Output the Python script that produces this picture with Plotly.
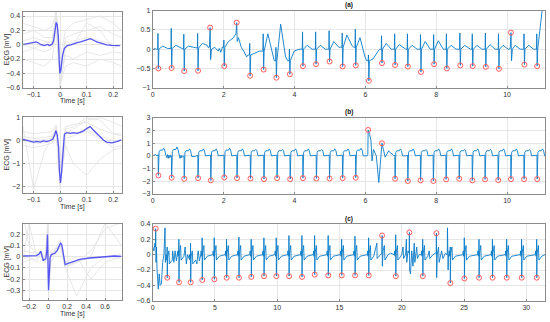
import plotly.graph_objects as go

W, H = 550, 322

# ---------------- Left panels: averaged beats ----------------
L1_T = [-0.142,-0.121,-0.102,-0.09,-0.08,-0.072,-0.06,-0.047,-0.041,-0.031,-0.025,-0.02,-0.015,-0.011,-0.007,
        -0.004,-0.001,0.002,0.009,0.016,0.027,0.04,0.052,0.064,0.077,0.089,0.101,0.114,0.126,0.138,0.157,0.175,0.194,0.212,0.225]
L1_V = [0.0,0.013,0.027,0.04,0.02,0.0,-0.013,0.004,-0.013,0.004,0.05,0.21,0.31,0.28,0.12,
        -0.19,-0.40,-0.37,-0.15,-0.05,-0.013,-0.004,0.018,0.03,0.04,0.053,0.076,0.084,0.062,0.04,0.018,-0.004,-0.009,-0.013,-0.013]
L1_GT = [-0.14,-0.1,-0.06,-0.03,-0.015,0,0.02,0.05,0.1,0.15,0.2,0.23]
L1_GRAY = [
    [0.05,0.1,0.05,0.02,0.45,-0.6,-0.05,0.05,0.1,0.05,0.0,-0.02],
    [-0.1,-0.05,-0.1,-0.05,0.3,-0.5,-0.15,-0.2,-0.1,-0.15,-0.1,-0.12],
    [0.15,0.2,0.1,0.1,0.4,-0.35,0.1,0.15,0.2,0.25,0.15,0.1],
    [-0.2,-0.25,-0.3,-0.2,0.2,-0.55,-0.3,-0.25,-0.3,-0.2,-0.25,-0.3],
    [0.0,-0.05,0.02,0.05,0.35,-0.45,0.05,0.0,0.3,0.2,-0.05,0.0],
    [0.3,0.25,0.2,0.25,0.48,-0.2,0.2,0.3,0.35,0.4,0.3,0.2],
]

L2_T = [-0.14,-0.119,-0.1,-0.088,-0.075,-0.063,-0.05,-0.038,-0.028,-0.021,-0.016,-0.011,-0.006,-0.003,0.001,0.005,
        0.01,0.016,0.025,0.038,0.05,0.063,0.075,0.088,0.103,0.113,0.123,0.135,0.15,0.163,0.175,0.194,0.213,0.231]
L2_V = [0.06,-0.01,-0.06,-0.03,-0.06,-0.01,-0.04,0.01,0.06,0.25,0.43,0.25,-0.26,-1.28,-1.83,-1.42,
        -0.41,0.29,0.35,0.32,0.35,0.32,0.36,0.43,0.55,0.61,0.49,0.35,0.17,0.03,-0.06,-0.09,-0.04,0.04]
L2_GT = [-0.14,-0.1,-0.06,-0.03,-0.015,0,0.02,0.05,0.1,0.15,0.2,0.235]
L2_GRAY = [
    [0.6,-2.1,-0.5,0.2,0.5,-1.5,0.4,0.3,0.5,0.2,0.0,0.0],
    [0.2,0.1,0.15,0.2,0.6,-1.6,0.5,0.6,1.0,0.9,0.3,0.2],
    [-0.2,-0.3,-0.2,-0.1,0.3,-2.0,-0.2,-1.0,-1.5,-0.8,-0.4,-0.3],
    [0.1,0.0,0.05,0.1,0.4,-1.7,0.3,0.5,0.9,1.0,0.8,0.6],
    [0.0,-0.1,-0.1,0.0,0.5,-1.9,0.1,0.2,0.4,0.1,-0.3,-0.2],
    [0.4,0.3,0.35,0.4,0.7,-1.2,0.6,0.7,0.8,0.5,0.3,0.3],
]

L3_T = [-0.263,-0.193,-0.123,-0.095,-0.077,-0.063,-0.053,-0.039,-0.025,-0.014,-0.007,-0.004,0.0,0.004,0.011,0.021,
        0.035,0.07,0.095,0.116,0.13,0.144,0.158,0.179,0.211,0.263,0.333,0.439,0.544,0.614,0.702,0.772]
L3_V = [0.006,0.006,0.009,0.024,0.048,0.0,-0.036,-0.024,-0.021,0.054,0.196,0.083,-0.185,-0.298,-0.185,-0.006,
        0.018,0.03,0.054,0.089,0.119,0.107,0.039,-0.071,-0.06,-0.042,-0.024,-0.012,-0.006,0.003,0.006,0.003]
L3_GT = [-0.26,-0.2,-0.12,-0.08,-0.03,-0.007,0.004,0.03,0.13,0.18,0.3,0.45,0.6,0.77]
L3_GRAY = [
    [0.35,0.1,0.02,0.05,-0.05,0.25,-0.3,0.0,0.15,-0.05,-0.05,0.0,0.3,0.1],
    [0.0,0.3,0.0,0.03,-0.02,0.15,-0.25,0.05,0.1,-0.1,-0.35,-0.1,0.0,0.02],
    [-0.05,-0.03,-0.02,0.06,-0.03,0.2,-0.28,0.0,0.12,-0.08,-0.05,0.05,0.25,0.3],
    [0.05,0.04,0.03,0.04,0.0,0.18,-0.2,0.03,0.08,-0.05,0.0,-0.2,-0.05,0.0],
    [-0.02,0.0,-0.05,0.02,-0.05,0.3,-0.35,-0.05,0.1,-0.1,-0.05,0.0,0.0,-0.02],
]

# ---------------- Right panels: ECG records ----------------
A_T = [0.16,0.535,0.89,1.28,1.62,2.02,2.37,2.75,3.13,3.49,3.87,4.24,4.61,4.99,5.36,5.73,6.10,6.47,6.84,7.20,
       7.57,7.94,8.30,8.68,9.03,9.40,9.77,10.11,10.49,10.85]
A_V = [-0.50,-0.49,-0.57,-0.56,0.56,-0.44,0.69,-0.69,-0.53,-0.74,-0.65,-0.44,-0.39,-0.32,-0.45,-0.42,-0.82,-0.36,-0.41,-0.45,
       -0.59,-0.39,-0.50,-0.42,-0.44,-0.46,-0.51,0.43,-0.40,-0.44]
A_HI = [0.41,0.54,0.39,0.41,None,0.24,None,0.15,0.40,0.05,0.0,0.45,0.45,0.48,0.42,0.52,-0.15,0.35,0.40,0.40,
        0.38,0.38,0.40,0.42,0.40,0.42,0.40,None,0.40,0.40]
A_BASE = [0.0,0.02,0.0,0.03,None,0.05,None,-0.15,-0.05,-0.3,-0.3,0.0,0.0,0.0,0.05,0.05,-0.3,0.0,0.0,0.0,
          0.0,0.0,0.0,0.0,0.0,0.0,0.0,None,0.0,0.0]
A_TW = [0.08,0.1,0.08,0.15,None,0.2,None,-0.1,0.4,0.65,-0.05,0.1,0.1,0.2,0.37,0.3,-0.25,0.15,0.12,0.1,
        0.2,0.22,0.1,0.1,0.1,0.12,0.1,None,0.1,1.3]
A_END = [0.02,0.03,0.05,0.1,None,0.3,None,-0.05,-0.2,-0.2,0.0,0.0,0.0,0.05,0.1,-0.2,-0.05,0.0,0.02,0.0,
         0.0,0.0,0.0,0.0,0.0,0.0,0.0,None,0.0,2.0]
A_XT = [0.0,0.05,1.56,1.6,1.62,1.635,1.66,1.75,1.85,1.88,1.92,1.95,
        2.31,2.35,2.37,2.385,2.42,2.5,2.6,2.65,10.05,10.09,10.11,10.125,10.15,10.23,10.37]
A_XV = [-0.02,0.02,0.05,0.05,0.56,-0.27,0.0,0.05,-0.05,0.02,-0.08,0.0,
        0.35,0.4,0.69,0.2,0.3,0.05,-0.1,-0.2,0.0,0.02,0.43,-0.3,0.0,0.1,0.0]

B_T = [0.16,0.535,0.89,1.28,1.64,2.02,2.38,2.76,3.14,3.51,3.88,4.24,4.62,4.99,5.36,5.73,6.08,6.47,6.84,7.20,
       7.56,7.92,8.28,8.65,9.02,9.38,9.75,10.11,10.48,10.85]
B_V = [-1.54,-1.72,-1.80,-1.75,-1.93,-1.70,-1.75,-1.78,-1.83,-1.75,-1.83,-1.75,-1.78,-1.78,-1.75,-1.72,2.04,0.99,-1.80,-1.98,
       -1.93,-1.98,-1.85,-1.80,-1.93,-1.85,-1.91,-1.83,-1.83,-1.83]
B_PLAT = [0.45,0.5,0.4,0.4,0.4,0.45,0.4,0.4,0.4,0.4,0.4,0.4,0.4,0.4,0.4,0.45,None,None,0.4,0.4,
          0.4,0.4,0.4,0.4,0.4,0.4,0.4,0.4,0.4,0.4]
B_BUMP = [0.6,0.7,0.55,0.55,0.55,0.6,0.55,0.5,0.55,0.5,0.55,0.55,0.5,0.55,0.55,0.6,None,None,0.55,0.55,
          0.5,0.55,0.55,0.5,0.55,0.5,0.55,0.55,0.5,0.55]
B_BASE = [0.05,-0.05,-0.05,0.0,0.0,0.0,0.0,0.0,0.0,0.0,0.0,0.0,0.0,0.0,0.0,0.0,None,None,0.0,0.0,
          0.0,0.0,0.0,0.0,0.0,0.0,0.0,0.0,0.0,0.0]
B_XT = [0.0,0.08,0.12,0.40,0.42,0.44,0.48,0.50,0.77,0.80,0.82,0.85,
        6.05,6.07,6.08,6.12,6.16,6.19,6.23,6.31,6.38,6.47,6.50,6.56,6.66,6.70,6.78]
B_XV = [0.0,0.1,0.0,-0.15,0.1,-0.2,-0.15,0.05,-0.2,0.05,-0.15,0.0,
        0.0,0.1,2.04,1.7,1.18,-0.4,0.5,0.0,-2.1,0.99,0.65,-0.1,0.4,0.25,0.1]

C_T = [0.24,1.17,2.11,3.05,3.98,4.95,5.94,6.93,7.92,8.94,9.93,10.95,11.99,13.01,14.10,15.18,16.25,17.35,18.42,19.52,
       20.61,21.69,22.78,23.90,25.03,26.21,27.29,28.43,29.63,30.84]
C_V = [0.34,-0.30,-0.36,-0.36,-0.33,-0.32,-0.30,-0.30,-0.29,-0.28,-0.28,-0.28,-0.29,-0.26,-0.27,-0.27,-0.27,-0.27,0.25,-0.28,
       0.29,-0.28,0.28,-0.37,-0.31,-0.30,-0.30,-0.30,-0.30,-0.30]
C_HI = [None,0.1,0.2,0.15,0.22,0.22,0.2,0.23,0.2,0.22,0.22,0.25,0.25,0.25,0.25,0.2,0.24,0.22,None,0.26,
        None,0.2,None,0.1,0.22,0.2,0.2,0.2,0.2,0.2]
C_TW = [None,0.1,0.12,0.1,0.12,0.12,0.12,0.12,0.12,0.12,0.12,0.12,0.12,0.12,0.12,0.12,0.12,0.12,None,0.12,
        None,0.12,None,0.1,0.12,0.12,0.12,0.12,0.12,0.12]
C_BASE = [None,-0.05,0.0,-0.05,0.0,0.0,0.0,0.0,0.0,0.0,0.0,0.0,0.0,0.0,0.0,0.0,0.0,0.0,None,0.0,
          None,0.0,None,0.0,0.0,0.0,0.0,0.0,0.0,0.0]
C_XT = [0.0,0.1,0.18,0.22,0.24,0.27,0.3,0.35,0.45,0.52,0.6,0.7,0.8,0.9,0.99,1.02,
        1.6,1.7,1.8,1.9,2.6,2.7,2.8,3.55,3.65,3.75,
        18.0,18.02,18.3,18.4,18.42,18.44,18.5,18.6,18.65,18.9,19.1,
        20.0,20.1,20.15,20.3,20.37,20.4,20.5,20.59,20.61,20.63,20.7,20.8,20.9,21.0,21.05,21.2,21.25,21.4,
        22.2,22.25,22.5,22.7,22.76,22.78,22.8,22.85,22.95,23.0,23.2,23.3,23.5,23.65,23.67,23.72,23.75,31.5]
C_XV = [0.1,0.05,0.15,0.1,0.34,-0.1,0.1,-0.2,-0.45,-0.25,-0.4,-0.38,-0.1,0.0,0.35,-0.1,
        0.05,-0.1,0.05,-0.08,0.1,-0.12,0.0,-0.12,0.05,-0.08,
        0.15,-0.05,0.0,0.02,0.25,-0.15,0.05,0.12,-0.07,0.0,0.02,
        0.0,0.1,-0.05,0.0,0.2,-0.1,0.05,0.02,0.29,-0.2,-0.25,0.05,-0.15,0.15,-0.1,0.1,-0.05,0.0,
        0.05,-0.05,0.0,0.02,0.02,0.28,-0.3,0.0,0.1,-0.1,0.05,-0.05,0.02,0.0,0.35,-0.2,0.0,0.0]

PANEL_TITLES = ["(a)", "(b)", "(c)"]
X_TITLE = "Time [s]"
Y_TITLE = "ECG [mV]"


def assemble(extra_t, extra_v, groups):
    pts = list(zip(extra_t, extra_v))
    for g in groups:
        pts.extend(g)
    pts.sort(key=lambda p: p[0])
    return [p[0] for p in pts], [p[1] for p in pts]


def groups_a():
    out = []
    for t, lo, hi, b, tw, e in zip(A_T, A_V, A_HI, A_BASE, A_TW, A_END):
        if hi is None:
            continue
        out.append([(t - 0.06, b), (t - 0.02, b), (t - 0.012, hi), (t, lo), (t + 0.015, b),
                    (t + 0.12, tw), (t + 0.26, e)])
    return out


def groups_b():
    out = []
    for t, lo, p, bu, b in zip(B_T, B_V, B_PLAT, B_BUMP, B_BASE):
        if p is None:
            continue
        out.append([(t - 0.03, b), (t - 0.008, b + 0.05), (t, lo), (t + 0.02, p * 0.7), (t + 0.05, p),
                    (t + 0.12, p), (t + 0.15, bu), (t + 0.18, p), (t + 0.21, b), (t + 0.30, b)])
    return out


def groups_c():
    out = []
    for t, lo, hi, tw, b in zip(C_T, C_V, C_HI, C_TW, C_BASE):
        if hi is None:
            continue
        out.append([(t - 0.12, b), (t - 0.09, b + 0.05), (t - 0.07, b - 0.02), (t - 0.02, b), (t - 0.01, hi),
                    (t, lo), (t + 0.03, b + 0.02), (t + 0.13, b + tw), (t + 0.17, b - 0.07), (t + 0.4, b - 0.02)])
    return out


ECG_COLOR = "#0a7cc8"
MEAN_COLOR = "#5555f2"
GRAY = "#e2e2e2"
MARK = "#ff5c5c"

fig = go.Figure()


def add_left(gt, grays, mt, mv, xa, ya):
    for g in grays:
        fig.add_trace(go.Scatter(x=gt, y=g, mode="lines", line=dict(color=GRAY, width=0.8),
                                 xaxis=xa, yaxis=ya, showlegend=False, hoverinfo="skip"))
    fig.add_trace(go.Scatter(x=mt, y=mv, mode="lines", line=dict(color=MEAN_COLOR, width=1.3),
                             xaxis=xa, yaxis=ya, showlegend=False))


def add_right(lt, lv, rt, rv, xa, ya):
    fig.add_trace(go.Scatter(x=lt, y=lv, mode="lines", line=dict(color=ECG_COLOR, width=0.9),
                             xaxis=xa, yaxis=ya, showlegend=False))
    fig.add_trace(go.Scatter(x=rt, y=rv, mode="markers",
                             marker=dict(symbol="circle-open", size=5, color=MARK, line=dict(width=1, color=MARK)),
                             xaxis=xa, yaxis=ya, showlegend=False, cliponaxis=False))


add_left(L1_GT, L1_GRAY, L1_T, L1_V, "x", "y")
at, av = assemble(A_XT, A_XV, groups_a())
add_right(at, av, A_T, A_V, "x2", "y2")
add_left(L2_GT, L2_GRAY, L2_T, L2_V, "x3", "y3")
bt, bv = assemble(B_XT, B_XV, groups_b())
add_right(bt, bv, B_T, B_V, "x4", "y4")
add_left(L3_GT, L3_GRAY, L3_T, L3_V, "x5", "y5")
ct, cv = assemble(C_XT, C_XV, groups_c())
add_right(ct, cv, C_T, C_V, "x6", "y6")


def xd(l, r):
    return [l / W, r / W]


def yd(top, bot):
    return [1 - bot / H, 1 - top / H]


FONT = dict(family="Liberation Sans, Arial, sans-serif", size=7, color="#333333")
common = dict(showline=True, mirror=True, linecolor="#8a8a8a", linewidth=1, showgrid=True,
              gridcolor="#e6e6e6", gridwidth=1, zeroline=False, ticks="inside", ticklen=2,
              tickcolor="#8a8a8a", tickfont=FONT, automargin=False)

LX = xd(22.5, 121.7)
RX = xd(152.7, 545)
LEFT_Y = [(11.7, 87.7), (117, 193), (224, 300)]
RIGHT_Y = [(10.7, 87.7), (117.7, 194), (224, 300.7)]

layout = dict(
    width=W, height=H, margin=dict(l=0, r=0, t=0, b=0, autoexpand=False), autosize=False,
    paper_bgcolor="white", plot_bgcolor="white", font=FONT, template="none",
    xaxis=dict(domain=LX, anchor="y", range=[-0.142, 0.232], tickvals=[-0.1, 0, 0.1, 0.2], **common),
    yaxis=dict(domain=yd(*LEFT_Y[0]), anchor="x", range=[-0.6, 0.46], tickvals=[-0.6, -0.4, -0.2, 0, 0.2, 0.4], **common),
    xaxis2=dict(domain=RX, anchor="y2", range=[0, 11.07], tickvals=[0, 2, 4, 6, 8, 10], **common),
    yaxis2=dict(domain=yd(*RIGHT_Y[0]), anchor="x2", range=[-1, 1], tickvals=[-1, -0.5, 0, 0.5, 1], **common),
    xaxis3=dict(domain=LX, anchor="y3", range=[-0.142, 0.232], tickvals=[-0.1, 0, 0.1, 0.2], **common),
    yaxis3=dict(domain=yd(*LEFT_Y[1]), anchor="x3", range=[-2.27, 1.03], tickvals=[-2, -1, 0, 1], **common),
    xaxis4=dict(domain=RX, anchor="y4", range=[0, 11.07], tickvals=[0, 2, 4, 6, 8, 10], **common),
    yaxis4=dict(domain=yd(*RIGHT_Y[1]), anchor="x4", range=[-3, 3], tickvals=[-3, -2, -1, 0, 1, 2, 3], **common),
    xaxis5=dict(domain=LX, anchor="y5", range=[-0.27, 0.775], tickvals=[-0.2, 0, 0.2, 0.4, 0.6], **common),
    yaxis5=dict(domain=yd(*LEFT_Y[2]), anchor="x5", range=[-0.385, 0.29], tickvals=[-0.3, -0.2, -0.1, 0, 0.1, 0.2], **common),
    xaxis6=dict(domain=RX, anchor="y6", range=[0, 31.5], tickvals=[0, 5, 10, 15, 20, 25, 30], **common),
    yaxis6=dict(domain=yd(*RIGHT_Y[2]), anchor="x6", range=[-0.6, 0.4], tickvals=[-0.6, -0.4, -0.2, 0, 0.2, 0.4], **common),
)
fig.update_layout(**layout)

TITLE_FONT = dict(family="Liberation Sans, Arial, sans-serif", size=6.5, color="#111111")
cx = (RX[0] + RX[1]) / 2
for txt, (top, _) in zip(PANEL_TITLES, RIGHT_Y):
    fig.add_annotation(text="<b>" + txt + "</b>", x=cx, y=1 - (top - 5.5) / H, xref="paper", yref="paper",
                       showarrow=False, font=TITLE_FONT, xanchor="center", yanchor="middle")

lcx = (LX[0] + LX[1]) / 2
for top, bot in LEFT_Y:
    fig.add_annotation(text=X_TITLE, x=lcx, y=1 - (bot + 13.5) / H, xref="paper", yref="paper",
                       showarrow=False, font=FONT, xanchor="center", yanchor="middle")
    fig.add_annotation(text=Y_TITLE, x=6.5 / W, y=1 - ((top + bot) / 2) / H, xref="paper", yref="paper",
                       showarrow=False, font=FONT, xanchor="center", yanchor="middle", textangle=-90)

fig.write_html("out.html", config={"displayModeBar": False},
               post_script="document.body.style.margin='0px';document.body.style.padding='0px';")
